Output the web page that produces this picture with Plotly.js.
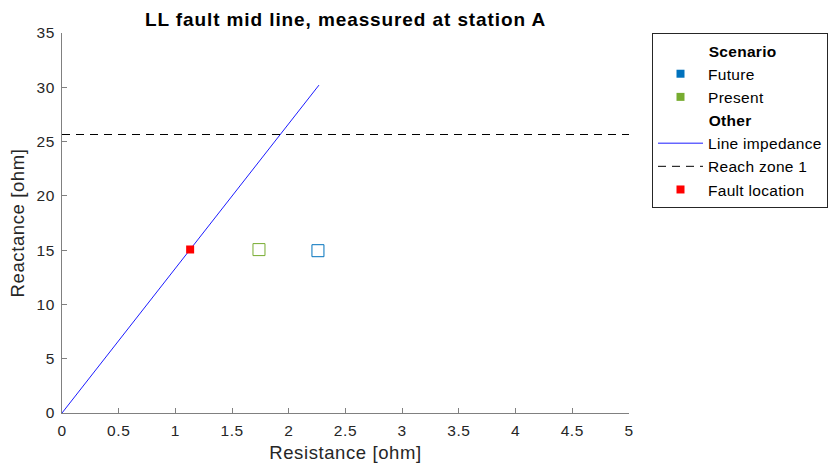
<!DOCTYPE html>
<html><head><meta charset="utf-8">
<script src="https://cdn.plot.ly/plotly-3.0.1.min.js"></script>
<style>
html,body{margin:0;padding:0;background:#fff}
.main-svg .xtick text,.main-svg .ytick text,.main-svg .g-xtitle text,.main-svg .g-ytitle text{letter-spacing:0.6px}
.main-svg .gtitle{letter-spacing:0.9px}
.legendtext{letter-spacing:0.3px}
</style>
</head><body><div id="chart" style="width:832px;height:473px"></div>
<script>
// Data
const lineX = [0, 2.266];
const lineY = [0, 30.2];
const reachX = [0, 5];
const reachY = [25.65, 25.65];
const faultX = [1.13];
const faultY = [15.06];
const presentX = [1.737];
const presentY = [15.05];
const futureX = [2.257];
const futureY = [14.95];
const xTicks = [0, 0.5, 1, 1.5, 2, 2.5, 3, 3.5, 4, 4.5, 5];
const yTicks = [0, 5, 10, 15, 20, 25, 30, 35];

const blue = '#0072BD', green = '#77AC30';
const pad = '\u00a0'.repeat(11);
const traces = [
  {x: futureX, y: futureY, type: 'scatter', mode: 'markers', showlegend: false,
   marker: {symbol: 'square-open', size: 12, color: blue, line: {width: 1}}},
  {x: presentX, y: presentY, type: 'scatter', mode: 'markers', showlegend: false,
   marker: {symbol: 'square-open', size: 12, color: green, line: {width: 1}}},
  {x: [null], y: [null], type: 'scatter', mode: 'markers', name: 'Future',
   legendgroup: 'scen', legendgrouptitle: {text: pad + '<b>Scenario</b>'},
   marker: {symbol: 'square', size: 8, color: blue}},
  {x: [null], y: [null], type: 'scatter', mode: 'markers', name: 'Present',
   legendgroup: 'scen', marker: {symbol: 'square', size: 8, color: green}},
  {x: lineX, y: lineY, type: 'scatter', mode: 'lines', name: 'Line impedance',
   legendgroup: 'oth', legendgrouptitle: {text: pad + '<b>Other</b>'},
   line: {color: '#0000FF', width: 0.9}},
  {x: reachX, y: reachY, type: 'scatter', mode: 'lines', name: 'Reach zone 1',
   legendgroup: 'oth', line: {color: '#000000', width: 1, dash: '8px,6px'}},
  {x: faultX, y: faultY, type: 'scatter', mode: 'markers', name: 'Fault location',
   legendgroup: 'oth', marker: {symbol: 'square', size: 8, color: '#FF0000'}}
];

const layout = {
  width: 832, height: 473,
  margin: {l: 62, r: 203, t: 33, b: 60},
  paper_bgcolor: '#fff', plot_bgcolor: '#fff',
  font: {family: 'Liberation Sans, Arial, sans-serif', color: '#262626', size: 15.5},
  title: {text: '<b>LL fault mid line, meassured at station A</b>', font: {size: 19, color: '#000'},
          x: 0.5, xref: 'paper', xanchor: 'center', y: 1, yref: 'paper', yanchor: 'bottom', pad: {b: 7}},
  xaxis: {range: [0, 5], tickvals: xTicks, ticktext: xTicks.map(String), showgrid: false, zeroline: false,
          showline: true, linecolor: '#808080', linewidth: 1, ticks: 'inside', ticklen: 5, tickcolor: '#808080',
          ticklabelstandoff: 3, tickfont: {size: 15.5, color: '#262626'},
          title: {text: 'Resistance [ohm]', font: {size: 18.5, color: '#262626'}, standoff: 8}},
  yaxis: {range: [0, 35], tickvals: yTicks, ticktext: yTicks.map(String), showgrid: false, zeroline: false,
          showline: true, linecolor: '#808080', linewidth: 1, ticks: 'inside', ticklen: 5, tickcolor: '#808080',
          ticklabelstandoff: 3, tickfont: {size: 15.5, color: '#262626'},
          title: {text: 'Reactance [ohm]', font: {size: 18.5, color: '#262626'}, standoff: 8}},
  legend: {xref: 'container', yref: 'container', x: 652 / 832, xanchor: 'left', y: 1 - 33 / 473, yanchor: 'top',
           bordercolor: '#262626', borderwidth: 1,
           bgcolor: '#fff', font: {size: 15.5, color: '#000'}, traceorder: 'grouped', tracegroupgap: 0,
           itemwidth: 45, grouptitlefont: {size: 15.5, color: '#000'}}
};
Plotly.newPlot('chart', traces, layout, {displayModeBar: false, staticPlot: true});
</script></body></html>
